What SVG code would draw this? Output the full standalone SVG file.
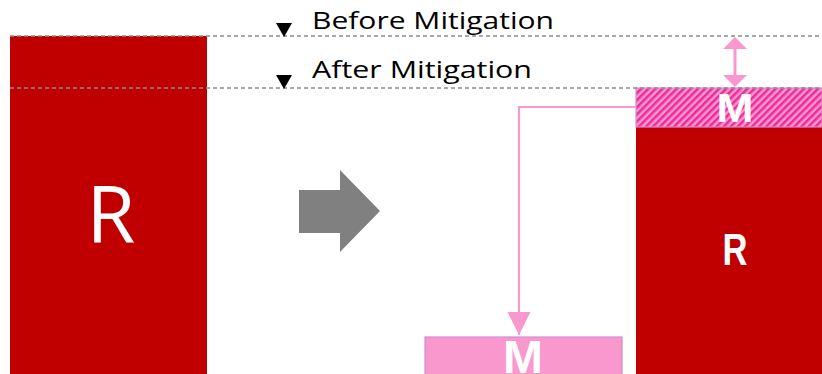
<svg xmlns="http://www.w3.org/2000/svg" width="822" height="374" viewBox="0 0 822 374">
  <style>
    .risk { fill: #C00000; }
    .mit { fill: #F898CC; stroke: #D18ED2; stroke-width: 1.2; }
    .level { stroke: #8C8C8C; stroke-width: 1.5; stroke-dasharray: 4 3; fill: none; }
    .label { font-family: "Open Sans", "Liberation Sans", sans-serif; font-size: 24px; fill: #000; }
    .big { font-family: "Open Sans", "Liberation Sans", sans-serif; fill: #fff; text-anchor: middle; }
    .bold { font-family: "Liberation Sans", Arial, sans-serif; font-weight: bold; fill: #fff; text-anchor: middle; }
    .link { stroke: #F898CC; stroke-width: 2.2; fill: none; }
  </style>
  <defs>
    <pattern id="hatch" width="5" height="5" patternUnits="userSpaceOnUse" patternTransform="rotate(45)">
      <rect width="5" height="5" fill="#F99ACF"/>
      <rect width="2.5" height="5" fill="#F2289A"/>
    </pattern>
    <marker id="pinkHead" viewBox="0 0 10 10" refX="10" refY="5" markerWidth="10.5" markerHeight="10.5" markerUnits="strokeWidth" orient="auto">
      <path d="M0,0 L10,5 L0,10 Z" fill="#F898CC"/>
    </marker>
  </defs>

  <!-- left column: risk before mitigation -->
  <g id="risk-before">
    <rect class="risk" x="10" y="36" width="197" height="338"/>
    <text class="big" x="111" y="243" font-size="79">R</text>
  </g>

  <!-- transition arrow -->
  <g id="transition">
    <polygon points="299,190 340,190 340,170 380,211 340,252 340,233 299,233" fill="#808080"/>
  </g>

  <!-- right column: residual risk plus mitigation slice -->
  <g id="risk-after">
    <rect class="risk" x="636" y="127" width="186" height="247"/>
    <text class="bold" x="735" y="265" font-size="45" textLength="25" lengthAdjust="spacingAndGlyphs">R</text>
  </g>
  <g id="mitigation-slice">
    <rect x="636" y="88" width="186" height="39" fill="url(#hatch)" stroke="#D18ED2" stroke-width="1.2"/>
    <text class="bold" x="735" y="122" font-size="41" textLength="37" lengthAdjust="spacingAndGlyphs">M</text>
  </g>

  <!-- mitigation moved out -->
  <g id="mitigation">
    <rect class="mit" x="425" y="337" width="197" height="40"/>
    <text class="bold" x="523" y="373" font-size="46" textLength="40" lengthAdjust="spacingAndGlyphs">M</text>
  </g>

  <!-- level lines and labels -->
  <g id="levels">
    <line class="level" x1="10" y1="36" x2="822" y2="36"/>
    <line class="level" x1="10" y1="88" x2="822" y2="88"/>
    <polygon points="276,23 292,23 284,37" fill="#000"/>
    <polygon points="276,75 292,75 284,89" fill="#000"/>
    <text class="label" x="312" y="29" textLength="242" lengthAdjust="spacingAndGlyphs">Before Mitigation</text>
    <text class="label" x="312" y="78" textLength="220" lengthAdjust="spacingAndGlyphs">After Mitigation</text>
  </g>

  <!-- connectors -->
  <g id="connectors">
    <polyline class="link" points="636,107 519,107 519,335" marker-end="url(#pinkHead)"/>
    <line x1="735" y1="45" x2="735" y2="80" stroke="#F898CC" stroke-width="3"/>
    <polygon points="723,49 735,37 747,49" fill="#F898CC"/>
    <polygon points="723,75 735,87 747,75" fill="#F898CC"/>
  </g>
</svg>
